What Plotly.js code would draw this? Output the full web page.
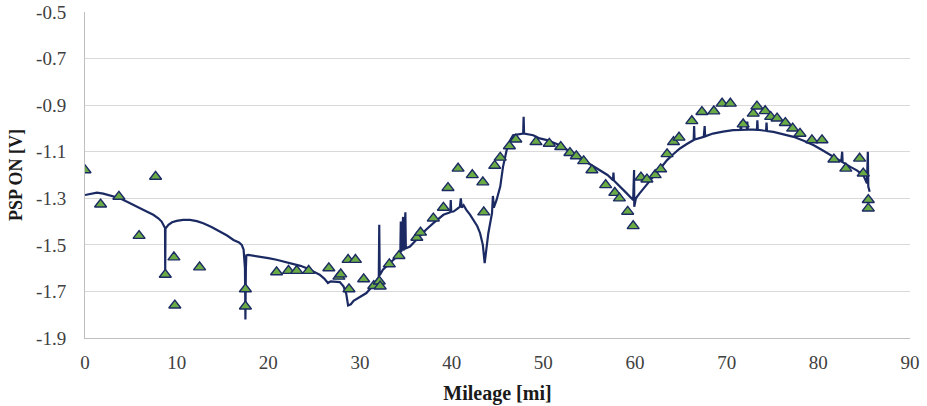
<!DOCTYPE html>
<html><head><meta charset="utf-8">
<script src="https://cdn.plot.ly/plotly-3.0.1.min.js"></script>
<style>html,body{margin:0;padding:0;background:#fff}#chart{width:927px;height:406px}</style>
</head><body><div id="chart"></div>
<script>
// Simulated PSP ON profile (line), with spikes
const lineMiles = [0,0.6,1.3,2.0,3.0,3.8,4.7,5.6,6.5,7.45,8.0,8.36,8.6,8.73,8.75,8.78,9.1,9.5,10.0,10.7,11.45,12.2,12.9,13.8,14.7,15.5,16.2,16.8,17.1,17.3,17.45,17.5,17.55,17.6,17.8,19.1,20.0,20.9,21.8,22.7,23.5,24.2,25.0,25.6,26.1,26.5,26.8,27.05,27.8,28.2,28.5,28.7,29.0,29.3,30.0,30.7,31.3,31.8,32.05,32.1,32.15,32.5,33.3,34.0,34.4,34.45,34.5,34.7,34.75,34.95,35.0,35.45,36.5,37.2,38.0,39.1,39.85,39.9,39.95,40.2,40.6,40.9,41.0,41.1,41.3,41.6,42.0,42.4,42.8,43.1,43.4,43.6,43.8,44.0,44.4,44.5,44.6,44.9,45.3,45.6,46.0,46.4,46.7,47.5,47.8,47.85,47.9,48.9,49.6,50.4,51.1,51.8,52.9,54.0,55.1,56.2,57.0,57.6,57.65,57.7,58.4,59.1,59.8,59.9,59.92,60.1,60.5,61.2,62.0,62.8,63.5,64.2,64.9,65.7,66.4,66.45,66.5,67.5,67.6,67.65,68.5,69.6,70.7,71.5,71.55,71.6,71.8,72.2,72.25,72.3,72.9,73.3,73.35,73.4,74.0,74.3,74.35,74.4,75.1,76.2,77.3,78.4,79.5,80.5,81.6,82.5,82.6,82.65,83.5,84.2,84.9,85.3,85.4,85.45,85.6];
const lineVolts = [-1.286,-1.280,-1.276,-1.280,-1.290,-1.300,-1.317,-1.336,-1.352,-1.371,-1.386,-1.400,-1.415,-1.428,-1.62,-1.43,-1.414,-1.403,-1.397,-1.393,-1.393,-1.398,-1.407,-1.423,-1.443,-1.460,-1.479,-1.490,-1.500,-1.520,-1.60,-1.821,-1.60,-1.545,-1.543,-1.550,-1.557,-1.564,-1.572,-1.581,-1.590,-1.600,-1.615,-1.628,-1.645,-1.664,-1.657,-1.657,-1.660,-1.678,-1.710,-1.760,-1.755,-1.740,-1.725,-1.707,-1.680,-1.650,-1.640,-1.414,-1.630,-1.607,-1.578,-1.552,-1.536,-1.40,-1.53,-1.38,-1.525,-1.36,-1.515,-1.507,-1.464,-1.435,-1.407,-1.371,-1.360,-1.307,-1.358,-1.357,-1.345,-1.336,-1.30,-1.34,-1.33,-1.350,-1.370,-1.393,-1.420,-1.450,-1.500,-1.578,-1.500,-1.450,-1.364,-1.29,-1.34,-1.307,-1.250,-1.165,-1.093,-1.050,-1.029,-1.022,-1.022,-0.95,-1.022,-1.029,-1.043,-1.050,-1.060,-1.072,-1.100,-1.129,-1.154,-1.179,-1.200,-1.222,-1.19,-1.224,-1.250,-1.279,-1.307,-1.179,-1.336,-1.300,-1.279,-1.243,-1.207,-1.170,-1.136,-1.110,-1.086,-1.066,-1.050,-0.99,-1.048,-1.036,-0.99,-1.034,-1.022,-1.014,-1.007,-1.006,-0.97,-1.006,-1.005,-1.005,-0.97,-1.005,-1.005,-1.006,-0.965,-1.006,-1.009,-1.010,-0.975,-1.011,-1.015,-1.025,-1.036,-1.053,-1.072,-1.095,-1.122,-1.142,-1.10,-1.145,-1.165,-1.180,-1.200,-1.236,-1.10,-1.25,-1.272];

// Measured PSP ON (triangles)
const measMiles = [0,1.7,3.7,5.9,7.7,8.76,9.7,9.8,12.5,17.5,17.5,20.9,22.2,23.1,24.4,26.6,27.7,27.9,28.7,29.5,28.8,30.4,31.5,32.1,32.2,33.2,34.25,36.2,36.6,38.0,39.1,39.6,40.7,42.25,43.4,43.5,44.7,45.3,46.3,47.0,49.2,50.65,51.9,52.9,53.6,54.4,55.3,56.8,57.8,58.3,59.2,59.8,60.65,61.3,62.2,62.8,63.5,64.2,64.8,66.2,67.3,68.6,69.5,70.4,71.8,72.9,73.3,74.2,74.8,75.5,76.4,77.2,78.0,79.3,80.4,81.7,83.0,84.5,84.9,85.45,85.45];
const measVolts = [-1.179,-1.326,-1.293,-1.461,-1.207,-1.628,-1.553,-1.760,-1.596,-1.690,-1.764,-1.617,-1.611,-1.611,-1.611,-1.600,-1.636,-1.626,-1.564,-1.564,-1.690,-1.647,-1.676,-1.657,-1.678,-1.583,-1.547,-1.469,-1.447,-1.386,-1.340,-1.255,-1.172,-1.200,-1.231,-1.360,-1.160,-1.125,-1.076,-1.047,-1.058,-1.065,-1.079,-1.105,-1.119,-1.140,-1.179,-1.243,-1.276,-1.300,-1.357,-1.419,-1.210,-1.219,-1.200,-1.175,-1.110,-1.058,-1.039,-0.968,-0.929,-0.926,-0.893,-0.893,-0.982,-0.936,-0.905,-0.925,-0.950,-0.957,-0.976,-1.000,-1.022,-1.050,-1.050,-1.133,-1.172,-1.129,-1.193,-1.307,-1.343];

const xTicks = [0,10,20,30,40,50,60,70,80,90];
const yTicks = [-1.9,-1.7,-1.5,-1.3,-1.1,-0.9,-0.7,-0.5];

const navy = '#1B2A63';
const serif = 'Liberation Serif, Times New Roman, serif';
const traces = [
  {x: lineMiles, y: lineVolts, type: 'scatter', mode: 'lines',
   line: {color: navy, width: 2.2}, hoverinfo: 'skip', showlegend: false},
  {x: measMiles, y: measVolts, type: 'scatter', mode: 'markers',
   marker: {symbol: 'triangle-up', size: 10.5, color: '#6AAB45', line: {color: navy, width: 1.4}},
   showlegend: false}
];
const layout = {
  width: 927, height: 406,
  margin: {l: 85, r: 17, t: 12, b: 68},
  paper_bgcolor: '#fff', plot_bgcolor: '#fff',
  font: {family: serif, size: 19, color: '#404040'},
  showlegend: false,
  xaxis: {range: [0, 90], tickvals: xTicks, ticktext: xTicks.map(String),
    showgrid: false, zeroline: false, showline: true, linecolor: '#BFBFBF', linewidth: 1,
    ticks: '', ticklabelstandoff: 7, tickfont: {family: serif, size: 19, color: '#404040'},
    title: {text: '<b>Mileage [mi]</b>', font: {family: serif, size: 20, color: '#1a1a1a'}, standoff: 14}},
  yaxis: {range: [-1.9, -0.5], tickvals: yTicks, ticktext: yTicks.map(v => v.toFixed(1)),
    showgrid: true, gridcolor: '#D9D9D9', gridwidth: 1, zeroline: false,
    showline: true, linecolor: '#BFBFBF', linewidth: 1, ticks: '', ticklabelstandoff: 14,
    tickfont: {family: serif, size: 19, color: '#404040'},
    title: {text: '<b>PSP ON [V]</b>', font: {family: serif, size: 18, color: '#1a1a1a'}, standoff: 8}}
};
Plotly.newPlot('chart', traces, layout, {displayModeBar: false, staticPlot: true});
</script>
</body></html>
